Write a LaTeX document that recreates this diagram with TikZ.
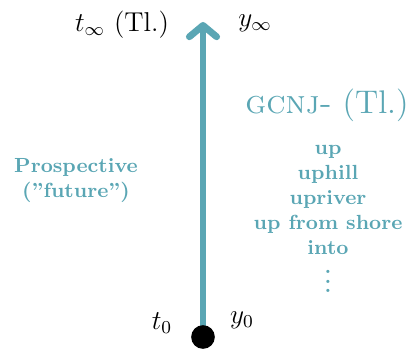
\documentclass[tikz,border=0pt]{standalone}
\usetikzlibrary{arrows.meta}
\definecolor{axisteal}{RGB}{90,166,180}

\begin{document}
\begin{tikzpicture}[
    x=0.44pt, y=-0.44pt,
    every node/.style={inner sep=0pt},
    axis/.style={line width=3pt,draw=axisteal,
                 -{Straight Barb[length=5pt,width=12pt,round]}},
    origin/.style={circle,fill=black,minimum size=10.4pt},
    endlabel/.style={font=\large},
    sidetext/.style={text=axisteal,font=\small\bfseries,align=center}
]
\useasboundingbox (0,0) rectangle (409,349);
% the time axis
\coordinate (top) at (203,22);
\draw[axis] (203,337) -- (top);
\node[origin] (start) at (203,337) {};
% end labels
\node[endlabel,anchor=base] (tinf) at (122,31) {$t_\infty$ (Tl.)};
\node[endlabel,anchor=base] (yinf) at (255,26) {$y_\infty$};
\node[endlabel,anchor=base] (tzero) at (162,329) {$t_0$};
\node[endlabel,anchor=base] (yzero) at (242,323) {$y_0$};
% side texts
\node[text=axisteal,font=\Large,anchor=base] (gloss) at (327,113)
    {\textsc{gcnj-} (Tl.)};
\node[sidetext,anchor=north] (prosp) at (76,158)
    {Prospective\\(''future'')};
\node[sidetext,anchor=north] (words) at (328,145)
    {up\\uphill\\upriver\\up from shore\\into\\$\vdots$};
\end{tikzpicture}
\end{document}
